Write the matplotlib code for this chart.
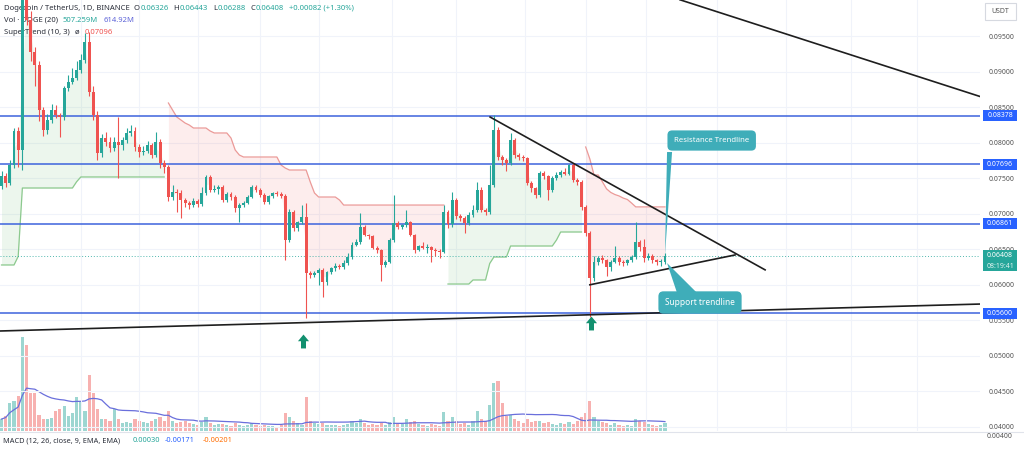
import numpy as np
import pandas as pd
import matplotlib
matplotlib.use('Agg')
import matplotlib.pyplot as plt
from matplotlib.patches import Rectangle
from matplotlib.path import Path

plt.rcParams['font.family'] = ['Noto Sans', 'DejaVu Sans']

# ---- data (DOGE/USDT daily) ----
first_open = 0.0739
close = [0.07531, 0.07432, 0.07685, 0.08164, 0.07897, 0.10148, 0.09726, 0.09275, 0.09092, 0.08459,
         0.08178, 0.08319, 0.08459, 0.08389, 0.08361, 0.08769, 0.08853, 0.08909, 0.09022, 0.09163,
         0.09416, 0.08713, 0.08389, 0.07854, 0.08065, 0.08009, 0.07925, 0.08009, 0.07967, 0.08037,
         0.08136, 0.08164, 0.07939, 0.07868, 0.07882, 0.07967, 0.07826, 0.08009, 0.07714, 0.07657,
         0.07235, 0.07306, 0.07292, 0.07193, 0.07151, 0.07122, 0.07179, 0.07137, 0.07292, 0.07517,
         0.07334, 0.07348, 0.07376, 0.07193, 0.07277, 0.07235, 0.07080, 0.07122, 0.07151, 0.07235,
         0.07376, 0.07334, 0.07263, 0.07165, 0.07249, 0.07292, 0.07277, 0.07249, 0.06630, 0.07024,
         0.06799, 0.06883, 0.06954, 0.06166, 0.06138, 0.06166, 0.06208, 0.06039, 0.06180, 0.06236,
         0.06265, 0.06250, 0.06307, 0.06391, 0.06560, 0.06602, 0.06813, 0.06700, 0.06686, 0.06518,
         0.06490, 0.06279, 0.06321, 0.06630, 0.06869, 0.06813, 0.06841, 0.06883, 0.06700, 0.06490,
         0.06546, 0.06518, 0.06532, 0.06490, 0.06476, 0.06461, 0.07024, 0.06855, 0.07193, 0.06968,
         0.06940, 0.06869, 0.06982, 0.07052, 0.07334, 0.07052, 0.07024, 0.07404, 0.08178, 0.07798,
         0.07756, 0.07714, 0.08037, 0.07826, 0.07798, 0.07784, 0.07432, 0.07362, 0.07263, 0.07573,
         0.07531, 0.07334, 0.07503, 0.07545, 0.07587, 0.07559, 0.07685, 0.07474, 0.07446, 0.07094,
         0.06729, 0.06096, 0.06321, 0.06377, 0.06349, 0.06250, 0.06321, 0.06377, 0.06321, 0.06307,
         0.06349, 0.06391, 0.06602, 0.06532, 0.06377, 0.06405, 0.06349, 0.06321, 0.06326, 0.06408]
high = [0.0760, 0.0757, 0.0775, 0.0820, 0.0822, 0.1030, 0.1030, 0.0985, 0.0935, 0.0915,
        0.0850, 0.0840, 0.0855, 0.0853, 0.0842, 0.0880, 0.0895, 0.0905, 0.0915, 0.0925,
        0.0954, 0.0955, 0.0880, 0.0845, 0.0812, 0.0815, 0.0808, 0.0808, 0.0836, 0.0808,
        0.0820, 0.0825, 0.0822, 0.0798, 0.0795, 0.0803, 0.0800, 0.0815, 0.0805, 0.0775,
        0.0768, 0.0740, 0.0735, 0.0734, 0.0722, 0.0718, 0.0722, 0.0721, 0.0738, 0.0754,
        0.0754, 0.0740, 0.0740, 0.0741, 0.0731, 0.0731, 0.0726, 0.0715, 0.0718, 0.0726,
        0.0741, 0.0741, 0.0736, 0.0729, 0.0727, 0.0731, 0.0732, 0.0731, 0.0728, 0.0706,
        0.0705, 0.0690, 0.0712, 0.0715, 0.0620, 0.0620, 0.0623, 0.0623, 0.0620, 0.0625,
        0.0630, 0.0629, 0.0635, 0.0645, 0.0660, 0.0665, 0.0701, 0.0684, 0.0672, 0.0670,
        0.0654, 0.0651, 0.0635, 0.0666, 0.0727, 0.0690, 0.0686, 0.0705, 0.0690, 0.0672,
        0.0656, 0.0660, 0.0658, 0.0655, 0.0652, 0.0650, 0.0712, 0.0705, 0.0730, 0.0722,
        0.0700, 0.0697, 0.0702, 0.0712, 0.0745, 0.0737, 0.0708, 0.0768, 0.0839, 0.0822,
        0.0782, 0.0778, 0.0814, 0.0806, 0.0785, 0.0782, 0.0780, 0.0746, 0.0738, 0.0760,
        0.0760, 0.0755, 0.0753, 0.0758, 0.0762, 0.0764, 0.0770, 0.0772, 0.0750, 0.0747,
        0.0712, 0.0675, 0.0640, 0.0640, 0.0642, 0.0637, 0.0635, 0.0655, 0.0640, 0.0635,
        0.0637, 0.0642, 0.0688, 0.0663, 0.0664, 0.0645, 0.0643, 0.0637, 0.0636, 0.06443]
low = [0.0735, 0.0738, 0.0740, 0.0765, 0.0766, 0.0762, 0.0965, 0.0915, 0.0880, 0.0830,
       0.0810, 0.0812, 0.0828, 0.0835, 0.0808, 0.0832, 0.0873, 0.0882, 0.0888, 0.0898,
       0.0912, 0.0865, 0.0832, 0.0775, 0.0780, 0.0795, 0.0787, 0.0788, 0.0750, 0.0790,
       0.0800, 0.0810, 0.0788, 0.0780, 0.0782, 0.0785, 0.0778, 0.0780, 0.0765, 0.0757,
       0.0718, 0.0720, 0.0702, 0.0694, 0.0710, 0.0707, 0.0709, 0.0709, 0.0711, 0.0727,
       0.0730, 0.0731, 0.0728, 0.0716, 0.0716, 0.0720, 0.0703, 0.0688, 0.0709, 0.0713,
       0.0722, 0.0731, 0.0723, 0.0713, 0.0714, 0.0722, 0.0725, 0.0722, 0.0635, 0.0660,
       0.0676, 0.0676, 0.0686, 0.0553, 0.0610, 0.0611, 0.0600, 0.0583, 0.0600, 0.0615,
       0.0620, 0.0622, 0.0622, 0.0628, 0.0636, 0.0654, 0.0658, 0.0668, 0.0665, 0.0650,
       0.0645, 0.0606, 0.0625, 0.0630, 0.0660, 0.0678, 0.0678, 0.0681, 0.0668, 0.0645,
       0.0647, 0.0650, 0.0645, 0.0632, 0.0640, 0.0638, 0.0645, 0.0680, 0.0682, 0.0692,
       0.0690, 0.0673, 0.0684, 0.0696, 0.0702, 0.0702, 0.0698, 0.0700, 0.0738, 0.0775,
       0.0768, 0.0760, 0.0768, 0.0778, 0.0776, 0.0774, 0.0740, 0.0731, 0.0722, 0.0724,
       0.0749, 0.0719, 0.0731, 0.0748, 0.0752, 0.0754, 0.0754, 0.0745, 0.0740, 0.0705,
       0.0668, 0.0555, 0.0606, 0.0628, 0.0630, 0.0612, 0.0620, 0.0630, 0.0628, 0.0627,
       0.0628, 0.0632, 0.0637, 0.0648, 0.0632, 0.0635, 0.0630, 0.0628, 0.0627, 0.06288]
volume_m = [740, 930, 1740, 1860, 2170, 5830, 5330, 2360, 2360, 990,
            740, 740, 810, 1240, 1360, 1550, 930, 1120, 2110, 1860,
            1240, 3470, 2360, 1360, 740, 740, 620, 1360, 740, 500,
            560, 500, 740, 620, 560, 500, 620, 740, 870, 620,
            1240, 620, 500, 560, 620, 500, 430, 370, 560, 870,
            500, 370, 430, 430, 370, 310, 500, 370, 310, 370,
            500, 370, 310, 370, 310, 310, 250, 370, 1120, 870,
            620, 500, 370, 2110, 620, 500, 430, 500, 370, 370,
            370, 310, 370, 430, 620, 500, 740, 500, 370, 430,
            370, 500, 370, 560, 870, 500, 430, 740, 560, 620,
            430, 370, 310, 430, 370, 310, 1180, 620, 870, 620,
            430, 500, 370, 620, 1240, 740, 620, 1610, 2980, 3100,
            1740, 930, 990, 740, 620, 500, 740, 560, 620, 620,
            500, 560, 430, 370, 500, 430, 560, 430, 620, 870,
            1120, 1860, 870, 620, 560, 500, 370, 500, 370, 310,
            370, 310, 740, 620, 560, 430, 370, 310, 370, 507]

# SuperTrend (10, 3) line as drawn, and where its direction flips
supertrend = ([0.06279] * 4 + [0.0640] + [0.07362] * 13 + [0.0745] + [0.07517] * 21 +
              [0.08558, 0.08459, 0.08361, 0.08319, 0.08276, 0.08248] + [0.08206] * 4 + [0.08164] +
              [0.08136] * 4 + [0.08065, 0.07897, 0.07826] + [0.07798] * 9 + [0.07685, 0.07643] +
              [0.07615] * 5 + [0.07446, 0.07292] + [0.07235] * 5 + [0.07193] + [0.07122] * 25 +
              [0.06011] * 6 + [0.06068] * 4 + [0.0630] + [0.06391] * 4 + [0.06546] * 11 + [0.0663] +
              [0.06743] * 6 +
              [0.07939, 0.0777, 0.07545, 0.07545, 0.0745, 0.0735, 0.0730, 0.0727, 0.0725, 0.0722,
               0.0720, 0.0715] + [0.07096] * 8)
st_segments = [(0, 39, 'up'), (40, 106, 'down'), (107, 139, 'up'), (140, 159, 'down')]

levels = [0.08378, 0.07696, 0.06861, 0.05600]
last_price = 0.06408

# drawn trendlines, (bar index, price) end points
tl_top = [(162.6, 0.1001), (235.0, 0.0864)]
tl_res = [(117.1, 0.0836), (183.0, 0.0621)]
tl_sup = [(141.0, 0.0600), (175.8, 0.0642)]
tl_base = [(-0.4, 0.0535), (235.0, 0.0573)]

arrows = [(72.3, 0.05208), (141.3, 0.05463)]

UP = '#26a69a'
DN = '#ef5350'
LVL = '#3d63dd'
DARK = '#2a2e39'

o = np.array([first_open] + close[:-1])
c = np.array(close)
h = np.array(high)
l = np.array(low)
idx = np.arange(len(c))
isup = c >= o
col = np.where(isup, UP, DN)

fig = plt.figure(figsize=(10.24, 4.5), dpi=100)
fig.patch.set_facecolor('white')
ax = fig.add_axes([0, 19 / 450, 980 / 1024, 431 / 450])
vax = ax.twinx()
ax.set_zorder(vax.get_zorder() + 1)
ax.patch.set_visible(False)

ax.set_xlim(-0.36, 234.5)
ax.set_ylim(0.03943, 0.10007)

# grid
for g in np.arange(0.040, 0.0951, 0.005):
    ax.axhline(g, color='#f0f3fa', lw=0.8, zorder=0)
for gx in [19, 33, 47, 62, 76, 93.5, 109, 125.5, 140, 154.5, 171.5, 188, 203.5, 219.5]:
    ax.axvline(gx, color='#f0f3fa', lw=0.8, zorder=0)

# volume + MA
vax.bar(idx, volume_m, width=0.75, color=col, alpha=0.45, linewidth=0)
vol_ma = pd.Series(volume_m).rolling(20, min_periods=1).mean()
vax.plot(idx, vol_ma, color='#6a6fdc', lw=0.9)
vax.set_ylim(0, 431 * 62)
vax.set_yticks([])
for s in vax.spines.values():
    s.set_visible(False)

# supertrend
st = np.array(supertrend)
mid = (o + c) / 2
for a, b, d in st_segments:
    seg = slice(a, b + 1)
    if d == 'up':
        ax.fill_between(idx[seg], st[seg], mid[seg], color='#4caf50', alpha=0.10, lw=0, zorder=1)
        ax.plot(idx[seg], st[seg], color='#8cc98e', lw=0.9, zorder=2)
    else:
        ax.fill_between(idx[seg], st[seg], mid[seg], color='#ef5350', alpha=0.10, lw=0, zorder=1)
        ax.plot(idx[seg], st[seg], color='#eb9a98', lw=0.9, zorder=2)

# candles
body_lo = np.minimum(o, c)
body_h = np.maximum(np.abs(c - o), 0.00012)
ax.vlines(idx, l, h, colors=col, lw=0.8, zorder=3)
ax.bar(idx, body_h, bottom=body_lo, width=0.7, color=col, linewidth=0, zorder=4)

# horizontal levels
for lv in levels:
    ax.axhline(lv, color=LVL, lw=1.1, zorder=2.8)
ax.axhline(last_price, color=UP, lw=0.7, ls=(0, (1, 2)), alpha=0.8, zorder=2.7)

# trendlines
for tl in [tl_top, tl_res, tl_sup, tl_base]:
    ax.plot([tl[0][0], tl[1][0]], [tl[0][1], tl[1][1]], color='#1e1e1e', lw=1.2, zorder=5)

# arrows
arrow_path = Path([(-0.18, -0.5), (0.18, -0.5), (0.18, 0.02), (0.4, 0.02), (0, 0.5),
                   (-0.4, 0.02), (-0.18, 0.02), (-0.18, -0.5)])
for ai, ap in arrows:
    ax.plot(ai, ap, marker=arrow_path, markersize=10, color='#12906f', mec='none', zorder=6)

# callouts
CALL = '#3fadb9'
ax.fill([159.5, 160.7, 159.0], [0.07868, 0.07868, 0.0641], color=CALL, zorder=6, lw=0)
ax.text(170.2, 0.0803, 'Resistance Trendline', fontsize=5.6, color='white', ha='center', va='center',
        zorder=7, bbox=dict(boxstyle='round,pad=0.85,rounding_size=0.6', fc=CALL, ec='none'))
ax.fill([159.5, 161.9, 166.7], [0.06306, 0.05885, 0.05885], color=CALL, zorder=6, lw=0)
ax.text(167.4, 0.05751, 'Support trendline', fontsize=6.0, color='white', ha='center', va='center',
        zorder=7, bbox=dict(boxstyle='round,pad=0.8,rounding_size=0.6', fc=CALL, ec='none'))

# price scale
ax.yaxis.tick_right()
ax.set_yticks(np.arange(0.040, 0.0951, 0.005))
ax.set_yticklabels([f'{t:.5f}' for t in np.arange(0.040, 0.0951, 0.005)])
ax.tick_params(axis='y', length=0, pad=6, labelsize=5, labelcolor='#555555')
ax.set_xticks([])
for s in ax.spines.values():
    s.set_visible(False)

ytr = ax.get_yaxis_transform()
half = 5.5 * 0.0001407
for lv in levels:
    ax.add_patch(Rectangle((1.003, lv - half), 0.0347, 2 * half, transform=ytr,
                           fc='#2962ff', ec='none', clip_on=False, zorder=8))
    ax.text(1.0205, lv, f'{lv:.5f}', transform=ytr, ha='center', va='center',
            fontsize=5, color='white', clip_on=False, zorder=9)
ax.add_patch(Rectangle((1.003, last_price - 15 * 0.0001407), 0.0347, 21 * 0.0001407, transform=ytr,
                       fc=UP, ec='none', clip_on=False, zorder=8))
ax.text(1.0205, last_price, f'{last_price:.5f}', transform=ytr, ha='center', va='center',
        fontsize=5, color='white', clip_on=False, zorder=9)
ax.text(1.0205, last_price - 10.5 * 0.0001407, '08:19:41', transform=ytr, ha='center', va='center',
        fontsize=5, color='#dff3f0', clip_on=False, zorder=9)

# USDT box
fig.add_artist(Rectangle((985 / 1024, 1 - 20 / 450), 31 / 1024, 17 / 450, transform=fig.transFigure,
                         fc='white', ec='#d6d9e0', lw=0.8))
fig.text(1000.5 / 1024, 1 - 11.5 / 450, 'USDT', fontsize=5, color='#555555', ha='center', va='center')

# header legend, laid out left to right (gap in px after each piece)
fig.canvas.draw()
rend = fig.canvas.get_renderer()
rows = [
    (8, [('Dogecoin / TetherUS, 1D, BINANCE', DARK, 4),
         ('O', DARK, 0.5), ('0.06326', UP, 5),
         ('H', DARK, 0.5), ('0.06443', UP, 5),
         ('L', DARK, 0.5), ('0.06288', UP, 5),
         ('C', DARK, 0.5), ('0.06408', UP, 5),
         ('+0.00082 (+1.30%)', UP, 0)]),
    (20, [('Vol · DOGE (20)', DARK, 5), ('507.259M', UP, 5), ('614.92M', '#5d63d8', 0)]),
    (32, [('SuperTrend (10, 3)', DARK, 5), ('ø', DARK, 5), ('0.07096', DN, 0)]),
]
for yy, parts in rows:
    xx = 4
    for txt, cc, gap in parts:
        t = ax.text(xx / 980, (431 - yy) / 431, txt, transform=ax.transAxes, fontsize=5.5,
                    color=cc, va='center', ha='left', zorder=2.9)
        xx = t.get_window_extent(renderer=rend).x1 + gap

# MACD pane
fig.add_artist(plt.Line2D([0, 1], [1 - 431.5 / 450, 1 - 431.5 / 450], transform=fig.transFigure,
                          color='#e0e3eb', lw=0.8))
for xx, txt, cc in [(3, 'MACD (12, 26, close, 9, EMA, EMA)', DARK), (133, '0.00030', UP),
                    (165, '-0.00171', '#2962ff'), (203, '-0.00201', '#ff6d00')]:
    fig.text(xx / 1024, 1 - 441 / 450, txt, fontsize=5.3, color=cc, va='center', ha='left')
fig.text(987 / 1024, 1 - 436 / 450, '0.00400', fontsize=5, color='#555555', va='center', ha='left')

fig.savefig('out.png', dpi=100, facecolor='white')
